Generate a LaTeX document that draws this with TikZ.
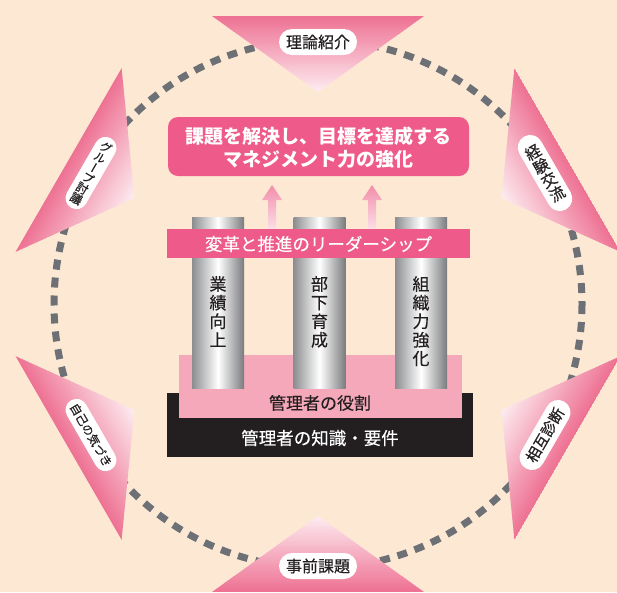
\documentclass[tikz,border=0pt]{standalone}
\usepackage{fontspec}
\setmainfont{Noto Sans CJK JP}
\newfontfamily\jpv[RawFeature=+vert,FakeBold=0.35]{Noto Sans CJK JP}
\newfontfamily\jpm[FakeBold=0.4]{Noto Sans CJK JP}
\newfontfamily\jpl[FakeBold=0.3]{Noto Sans CJK JP}
\usetikzlibrary{calc}
\definecolor{bg}{HTML}{FDE8D4}
\definecolor{tridark}{HTML}{EE7293}
\definecolor{trilight}{HTML}{FDEEF3}
\definecolor{hotpink}{HTML}{EE5A89}
\definecolor{softpink}{HTML}{F5A8B9}
\definecolor{barblack}{HTML}{231F20}
\definecolor{dashgray}{HTML}{6D7074}
\definecolor{colgrayL}{HTML}{8C8D90}
\definecolor{colgrayR}{HTML}{7A7B7E}
\definecolor{arrowtop}{HTML}{F28EAA}
\definecolor{arrowbot}{HTML}{FCE0E8}
\definecolor{ink}{HTML}{231F20}
\begin{document}
\begin{tikzpicture}[x=1pt,y=-1pt,
  pill/.style={fill=white, inner sep=0pt, text=ink},
  hpill/.style={pill, minimum width=78pt, minimum height=26pt, rounded corners=13pt, font=\jpm\fontsize{16}{16}\selectfont},
  whitetext/.style={text=white, inner sep=0pt},
  coltext/.style={anchor=north, align=center, text=ink, inner sep=0pt, font=\jpl\fontsize{17}{18.6}\selectfont},
  column/.style={left color=colgrayL, right color=colgrayR, middle color=white}
]
\fill[bg] (0,0) rectangle (617,592);
\useasboundingbox (0,0) rectangle (617,592);
\coordinate (C) at (318,304);
% dashed circle
\draw[dashgray, line width=7pt, dash pattern=on 10pt off 8pt] (C) circle[radius=264];
% six triangles
\foreach \ang in {0,60,...,300}{
  \begin{scope}[rotate around={\ang:(C)}]
    \clip (212,16) -- (424,16) -- (318,92) -- cycle;
    \foreach \i in {0,...,39}{
      \pgfmathsetmacro\pct{100-\i*2.5}
      \fill[tridark!\pct!trilight] (200,{16+\i*1.9}) rectangle (436,{16+(\i+1)*1.9+0.4});
    }
  \end{scope}
}
% labels of triangles
\node[hpill] (theory) at (318,42) {理論紹介};
\node[hpill] (prework) at (318,566) {事前課題};
\node[pill, minimum width=22pt, minimum height=80pt, rounded corners=11pt, rotate=-30, align=center,
      font=\jpv\fontsize{12}{11.8}\selectfont] (group) at (91,173) {グ\\ル\\ー\\プ\\討\\議};
\node[pill, minimum width=25pt, minimum height=84pt, rounded corners=12.5pt, rotate=30, align=center,
      font=\jpv\fontsize{15.5}{16}\selectfont] (exchange) at (545,173) {経\\験\\交\\流};
\node[pill, minimum width=80pt, minimum height=22pt, rounded corners=11pt, rotate=-60,
      font=\jpm\fontsize{11.8}{11.8}\selectfont] (aware) at (91,435) {自己の気づき};
\node[pill, minimum width=77pt, minimum height=25pt, rounded corners=12.5pt, rotate=60,
      font=\jpm\fontsize{15}{15}\selectfont] (mutual) at (545,435) {相互診断};
% goal box
\fill[hotpink, rounded corners=10pt] (168,117) rectangle (469,176);
\node[whitetext, align=center, font=\bfseries\fontsize{19}{23}\selectfont] (goal) at (318.5,148) {課題を解決し、目標を達成する\\マネジメント力の強化};
% arrows
\foreach \ax in {272,372}{
  \shade[top color=arrowtop, bottom color=arrowbot]
    (\ax,185) -- ({\ax+10},200) -- ({\ax+4},200) -- ({\ax+4},230) -- ({\ax-4},230) -- ({\ax-4},200) -- ({\ax-10},200) -- cycle;
}
% foundation
\fill[barblack] (167,393) rectangle (473,457);
\fill[softpink] (179,355) rectangle (462,418);
% columns
\foreach \cx in {218,319.5,421}{
  \shade[column] ({\cx-26},217) rectangle ({\cx+26},388);
}
% leadership bar
\fill[hotpink] (167,229) rectangle (470,258);
\node[whitetext, font=\jpl\fontsize{17.5}{17.5}\selectfont] (lead) at (318.5,244) {変革と推進のリーダーシップ};
% column texts
\node[coltext] (perf) at (218,276) {業\\績\\向\\上};
\node[coltext] (staff) at (319.5,276) {部\\下\\育\\成};
\node[coltext] (org) at (421,276) {組\\織\\力\\強\\化};
% foundation texts
\node[text=ink, inner sep=0pt, font=\jpl\fontsize{17}{17}\selectfont] (role) at (320,403) {管理者の役割};
\node[whitetext, font=\jpl\fontsize{17.5}{17.5}\selectfont] (know) at (320,438) {管理者の知識・要件};
\end{tikzpicture}
\end{document}
